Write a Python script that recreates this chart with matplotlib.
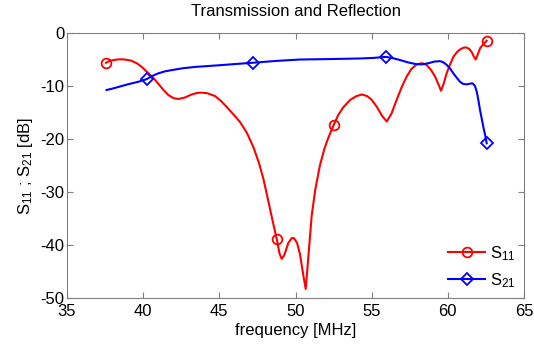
import matplotlib as mpl
mpl.use('Agg')
import matplotlib.pyplot as plt

# values
s11_freq = [37.56, 37.8, 38.15, 38.5, 38.8, 39.2, 39.58, 39.95, 40.34, 40.7,
            41.0, 41.35, 41.65, 42.0, 42.31, 42.7, 43.19, 43.55, 43.84, 44.2,
            44.72, 45.1, 45.5, 46.0, 46.36, 46.8, 47.23, 47.6, 47.89, 48.2,
            48.44, 48.77, 48.95, 49.09, 49.25, 49.53, 49.75, 49.9, 50.1, 50.3,
            50.5, 50.67, 50.85, 51.06, 51.3, 51.6, 51.9, 52.15, 52.5, 52.8,
            53.14, 53.6, 54.0, 54.35, 54.7, 55.0, 55.33, 55.7, 55.99, 56.3,
            56.64, 57.0, 57.3, 57.6, 57.96, 58.3, 58.6, 58.9, 59.16, 59.4,
            59.55, 59.72, 59.92, 60.15, 60.36, 60.6, 60.8, 61.0, 61.19, 61.4,
            61.57, 61.7, 61.83, 61.97, 62.11, 62.3, 62.55]
s11_db = [-5.6, -5.25, -5.05, -4.95, -5.0, -5.2, -5.7, -6.5, -7.6, -8.6,
          -9.6, -10.8, -11.7, -12.3, -12.45, -12.2, -11.6, -11.3, -11.25, -11.35,
          -11.9, -12.8, -14.0, -15.6, -16.8, -18.8, -21.5, -24.5, -27.5, -31.5,
          -34.7, -38.9, -41.6, -42.6, -42.0, -39.6, -38.7, -38.7, -39.6, -41.8,
          -45.5, -48.3, -42.0, -34.5, -29.5, -25.0, -21.8, -19.8, -17.4, -15.5,
          -14.0, -12.6, -11.9, -11.6, -11.9, -12.6, -13.9, -15.7, -16.7, -15.2,
          -12.6, -10.0, -8.2, -6.8, -5.9, -5.7, -6.0, -7.0, -8.2, -9.8,
          -10.9, -9.6, -7.6, -5.9, -4.5, -3.6, -3.1, -2.8, -2.7, -3.0,
          -3.6, -4.4, -5.0, -4.0, -2.9, -2.2, -1.45]
s11_mark_freq = [37.56, 48.77, 52.5, 62.55]

s21_freq = [37.6, 38.1, 38.59, 39.1, 39.68, 40.23, 40.6, 41.0, 41.4, 41.87,
            42.6, 43.4, 44.4, 45.37, 46.3, 47.23, 48.8, 50.3, 51.4, 52.5,
            53.4, 54.23, 55.1, 55.94, 56.4, 56.86, 57.4, 57.96, 58.35, 58.72,
            59.1, 59.49, 59.72, 59.92, 60.15, 60.36, 60.6, 60.8, 61.0, 61.24,
            61.45, 61.63, 61.78, 61.9, 62.0, 62.11, 62.22, 62.33, 62.45, 62.55]
s21_db = [-10.75, -10.4, -10.0, -9.6, -9.2, -8.7, -8.1, -7.6, -7.25, -7.0,
          -6.65, -6.4, -6.2, -6.0, -5.8, -5.6, -5.25, -5.0, -4.95, -4.9,
          -4.85, -4.8, -4.7, -4.5, -4.75, -5.1, -5.55, -5.9, -5.9, -5.7,
          -5.4, -5.3, -5.55, -6.0, -6.7, -7.6, -8.5, -9.2, -9.6, -9.7,
          -9.55, -9.5, -10.0, -11.1, -12.6, -14.5, -16.1, -17.7, -19.3, -20.8]
s21_mark_freq = [40.23, 47.23, 55.94, 62.55]

plt.rcParams['font.family'] = ['Liberation Sans', 'DejaVu Sans']
plt.rcParams['font.size'] = 12
plt.rcParams['axes.unicode_minus'] = False
plt.rcParams['mathtext.fontset'] = 'custom'
plt.rcParams['mathtext.rm'] = 'Liberation Sans'
plt.rcParams['mathtext.it'] = 'Liberation Sans'

fig = plt.figure(figsize=(5.34, 3.44), dpi=100)
ax = fig.add_axes([0.1255, 0.1337, 0.8558, 0.7703])

ax.plot(s11_freq, s11_db, color='red', linewidth=1.5, marker='o', markersize=7,
        markerfacecolor='none', markeredgewidth=1.3,
        markevery=[s11_freq.index(f) for f in s11_mark_freq], label='S$_{11}$')
ax.plot(s21_freq, s21_db, color='blue', linewidth=1.5, marker='D', markersize=6,
        markerfacecolor='none', markeredgewidth=1.3,
        markevery=[s21_freq.index(f) for f in s21_mark_freq], label='S$_{21}$')

ax.set_xlim(35, 65)
ax.set_ylim(-50, 0)
ax.set_xticks(range(35, 66, 5))
ax.set_yticks(range(-50, 1, 10))
ax.tick_params(direction='in', top=True, right=True, length=4,
               color='#808080', labelsize=12, pad=2)
ax.tick_params(axis='x', pad=4)
for sp in ax.spines.values():
    sp.set_color('#808080')
    sp.set_linewidth(0.8)

ax.set_xlabel('frequency [MHz]', labelpad=3)
ax.set_ylabel('S$_{11}$ ; S$_{21}$ [dB]', labelpad=4)
ax.set_title('Transmission and Reflection', fontsize=12, pad=12)
ax.legend(loc='lower right', frameon=False, handlelength=2.2,
          borderaxespad=0.1, labelspacing=0.5, handletextpad=0.3)

fig.savefig('out.png', dpi=100)
